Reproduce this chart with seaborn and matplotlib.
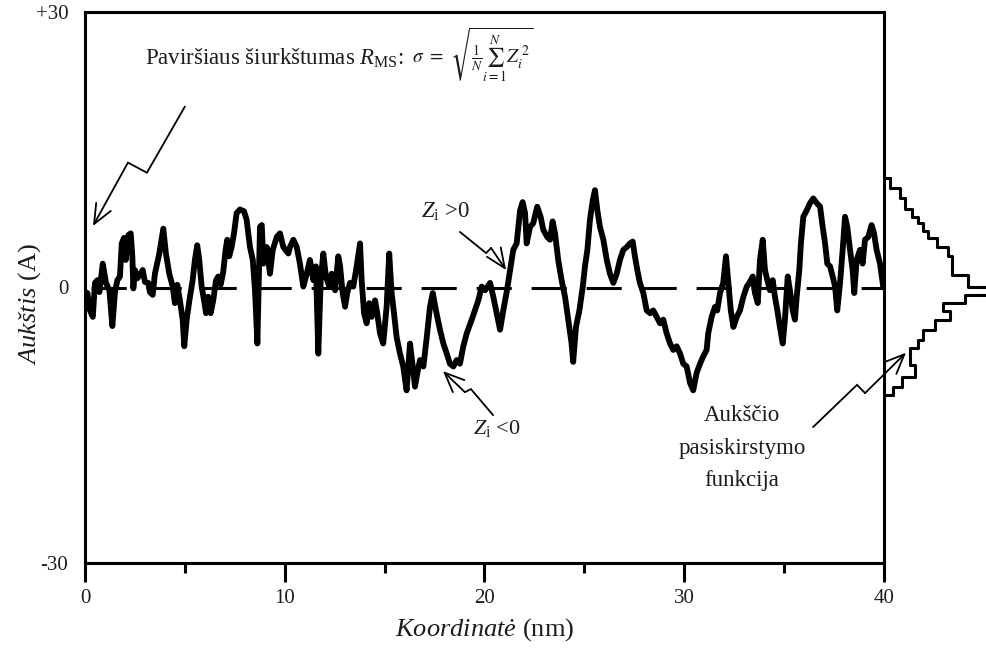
import matplotlib
matplotlib.use("Agg")
import matplotlib.pyplot as plt
import numpy as np
import pandas as pd
import seaborn as sns

# Surface profile: lateral coordinate (nm) and height (Å)
coordinate_nm = [
    0.02, 0.12, 0.25, 0.39, 0.50, 0.62, 0.72, 0.89, 1.05, 1.22, 1.37, 1.50, 1.62, 1.75,
    1.84, 1.95, 2.04, 2.17, 2.29, 2.37, 2.42, 2.50, 2.62, 2.75, 2.89, 3.00, 3.17, 3.25,
    3.39, 3.50, 3.72, 3.92, 4.05, 4.22, 4.39, 4.50, 4.62, 4.75, 4.89, 4.97, 5.09, 5.22,
    5.39, 5.50, 5.62, 5.72, 5.84, 5.96, 6.06, 6.17, 6.29, 6.42, 6.56, 6.67, 6.79, 6.92,
    7.04, 7.12, 7.22, 7.34, 7.46, 7.59, 7.76, 7.96, 8.09, 8.26, 8.40, 8.51, 8.63, 8.76,
    8.85, 8.93, 9.10, 9.26, 9.40, 9.60, 9.76, 9.93, 10.18, 10.26, 10.43, 10.60, 10.76,
    10.93, 11.10, 11.26, 11.43, 11.56, 11.68, 11.80, 11.93, 12.06, 12.23, 12.35, 12.52,
    12.68, 12.77, 12.90, 13.02, 13.13, 13.27, 13.43, 13.60, 13.77, 13.85, 13.97, 14.10,
    14.23, 14.35, 14.52, 14.63, 14.77, 14.93, 15.10, 15.23, 15.35, 15.47, 15.60, 15.77,
    15.93, 16.10, 16.27, 16.41, 16.52, 16.64, 16.77, 16.94, 17.11, 17.27, 17.41, 17.57,
    17.77, 17.94, 18.11, 18.27, 18.44, 18.61, 18.77, 18.94, 19.11, 19.36, 19.52, 19.69,
    19.86, 20.03, 20.28, 20.44, 20.61, 20.78, 20.94, 21.11, 21.28, 21.44, 21.61, 21.78,
    21.91, 22.03, 22.11, 22.28, 22.44, 22.64, 22.81, 22.94, 23.14, 23.28, 23.41, 23.53,
    23.69, 23.86, 24.03, 24.19, 24.36, 24.44, 24.58, 24.75, 24.92, 25.03, 25.15, 25.28,
    25.42, 25.53, 25.65, 25.78, 25.95, 26.12, 26.28, 26.45, 26.62, 26.78, 26.95, 27.12,
    27.28, 27.42, 27.53, 27.65, 27.78, 27.95, 28.12, 28.29, 28.45, 28.62, 28.79, 28.95,
    29.12, 29.29, 29.45, 29.62, 29.79, 29.95, 30.12, 30.29, 30.45, 30.62, 30.79, 30.95,
    31.12, 31.20, 31.37, 31.54, 31.65, 31.79, 31.95, 32.09, 32.21, 32.33, 32.46, 32.63,
    32.79, 32.96, 33.13, 33.26, 33.43, 33.54, 33.68, 33.79, 33.93, 34.04, 34.16, 34.29,
    34.43, 34.54, 34.66, 34.79, 34.93, 35.04, 35.18, 35.29, 35.43, 35.54, 35.63, 35.76,
    35.84, 35.96, 36.13, 36.30, 36.46, 36.63, 36.80, 36.93, 37.05, 37.16, 37.30, 37.43,
    37.55, 37.66, 37.80, 37.93, 38.05, 38.16, 38.30, 38.43, 38.51, 38.63, 38.80, 38.93,
    39.05, 39.21, 39.38, 39.50, 39.63, 39.80, 39.96,
]
height_A = [
    -0.5, -0.6, -2.5, -3.2, 0.5, 0.8, -0.5, 2.6, 0.5, -0.3, -4.2, -0.5, 0.8, 1.2,
    4.8, 5.4, 3.0, 5.7, 5.9, 3.4, -0.1, 1.9, 1.0, 1.4, 1.9, 0.6, 0.5, -0.5,
    -0.8, 1.5, 3.7, 6.4, 3.7, 1.5, 0.1, -1.7, 0.3, -1.4, -3.5, -6.4, -3.5, -1.5,
    0.8, 3.0, 4.6, 3.0, 0.1, -1.4, -2.8, -1.0, -2.8, -1.4, 0.8, 1.2, 0.3, 1.7,
    4.1, 5.2, 3.4, 4.4, 5.9, 8.1, 8.5, 8.3, 7.4, 4.4, 3.0, -0.3, -6.1, 6.6,
    6.8, 2.6, 4.4, 1.5, 4.1, 5.5, 5.9, 4.4, 3.7, 4.4, 5.2, 4.4, 2.6,
    0.1, 1.5, 3.0, 0.8, 2.3, -7.2, 0.8, 3.7, 1.2, 0.1, 1.5, -0.3,
    3.4, 2.3, -0.6, -2.1, -0.6, 0.5, 0.1, 2.3, 4.8, 0.8, -2.8, -3.9,
    -1.7, -3.2, -1.4, -2.8, -5.0, -6.1, -2.1, 3.7, -0.6, -2.8, -5.4, -7.2,
    -8.6, -11.2, -6.1, -8.6, -10.8, -9.3, -7.9, -8.6, -5.4, -2.1, -0.6, -2.5,
    -4.6, -6.1, -7.2, -8.3, -8.6, -7.9, -8.3, -6.4, -5.0, -3.5, -2.5, -1.4,
    0.1, -0.3, 0.5, -1.0, -2.8, -4.6, -2.5, -0.5, 1.9, 4.1, 4.8, 8.4,
    9.3, 8.1, 4.8, 6.6, 7.0, 8.8, 7.7, 6.3, 5.5, 5.2, 7.2, 5.9,
    3.0, 0.8, -1.0, -3.5, -6.1, -8.1, -4.3, -2.5, 0.1, 2.3, 4.1, 7.4,
    9.5, 10.6, 8.4, 6.6, 5.2, 3.0, 1.5, 0.5, 1.5, 3.0, 4.1, 4.4,
    4.8, 5.0, 3.4, 1.9, 0.5, -0.6, -2.5, -2.8, -2.5, -3.2, -3.9, -3.5,
    -5.0, -6.1, -6.8, -6.4, -7.2, -8.3, -8.6, -10.4, -11.2, -9.3, -8.3, -7.5,
    -6.8, -5.0, -3.2, -2.1, -2.5, -0.6, 0.5, 3.4, 0.5, -2.5, -4.3, -3.2,
    -2.5, -1.0, 0.1, 0.5, 1.2, -0.6, -1.7, 3.0, 5.2, 1.9, 0.8, -0.3,
    0.8, -1.0, -2.5, -4.3, -6.1, -3.5, 1.2, -0.3, -2.5, -3.5, -1.0, 1.9,
    4.8, 7.7, 8.4, 9.2, 9.7, 9.2, 8.8, 6.6, 4.8, 2.6, 2.3, 1.2,
    0.1, -2.5, 0.5, 4.1, 7.7, 6.6, 4.1, 1.9, -0.6, 3.0, 4.1, 2.6,
    5.2, 5.5, 6.8, 5.9, 4.1, 2.6, 0.1,
]

# Height distribution: bin edges (Å) and counts per bin
dist_edges_A = [-11.7, -10.8, -9.7, -8.4, -6.6, -5.7, -4.6, -3.5, -2.6, -1.7, -0.8,
                0.1, 1.4, 3.4, 4.4, 5.4, 6.1, 7.0, 7.7, 8.6, 9.7, 10.8, 11.9]
dist_counts = [8, 17, 30, 25, 33, 38, 50, 65, 58, 80, 120,
               83, 67, 63, 52, 43, 38, 33, 27, 20, 15, 5]

x_ticks = [0, 10, 20, 30, 40]
x_minor_ticks = [5, 15, 25, 35]
y_ticks = [30, 0, -30]
y_tick_labels = ["+30", "0", "-30"]

sns.set_theme(style="ticks")
plt.rcParams["font.family"] = ["Liberation Serif", "DejaVu Serif"]
plt.rcParams["mathtext.fontset"] = "custom"
plt.rcParams["mathtext.rm"] = "Liberation Serif"
plt.rcParams["mathtext.it"] = "Liberation Serif:italic"
plt.rcParams["mathtext.bf"] = "Liberation Serif:bold"

TXT = "#1c1c1c"
W, H = 987, 648
fig = plt.figure(figsize=(W / 100, H / 100), dpi=100)
fig.patch.set_facecolor("white")

left, right, top, bottom = 85, 884, 12, 563
ax = fig.add_axes([left / W, 1 - bottom / H, (right - left) / W, (bottom - top) / H])
ax.set_xlim(0, 40)
ax.set_ylim(-30, 30)

profile = pd.DataFrame({"coord": coordinate_nm, "height": height_A})

# mean (zero) level
ax.axhline(0, color="black", lw=2.2, ls=(16, (11.5, 6.5)), zorder=1)

sns.lineplot(data=profile, x="coord", y="height", ax=ax, color="black",
             lw=4.2, estimator=None, sort=False, zorder=3,
             solid_joinstyle="round", solid_capstyle="round")

for s in ax.spines.values():
    s.set_linewidth(2.2)
    s.set_color("black")
    s.set_visible(True)

ax.set_xticks(x_ticks)
ax.set_xticks(x_minor_ticks, minor=True)
ax.set_xticklabels([str(t) for t in x_ticks])
ax.tick_params(axis="x", which="major", direction="out", length=13.5, width=2.2,
               color="black", labelsize=15, pad=5, labelcolor=TXT)
ax.tick_params(axis="x", which="minor", direction="out", length=7.5, width=2.2,
               color="black")
ax.set_yticks(y_ticks)
ax.set_yticklabels(y_tick_labels)
ax.tick_params(axis="y", length=0, labelsize=15, pad=12, labelcolor=TXT)

ax.set_xlabel("$\\mathit{Koordinatė}$ (nm)", fontsize=19, color=TXT)
ax.xaxis.set_label_coords(0.5, -0.097)
ax.set_ylabel("$\\mathit{Aukštis}$ (A)", fontsize=19, color=TXT)
ax.yaxis.set_label_coords(-0.053, 0.47)

# height distribution drawn sideways to the right of the frame
edges = [float(e) for e in dist_edges_A]
centers = [(a + b) / 2 for a, b in zip(edges[:-1], edges[1:])]
dist = pd.DataFrame({"height": centers, "count": dist_counts})
hw = 0.12
axh = fig.add_axes([(right + 1) / W, 1 - bottom / H, hw, (bottom - top) / H])
sns.histplot(data=dist, y="height", weights="count", bins=edges, element="step",
             fill=False, color="black", lw=2.2, ax=axh)
# close the outline back to the frame at both ends
axh.plot([0, dist_counts[-1]], [edges[-1], edges[-1]], color="black", lw=2.2)
axh.plot([0, dist_counts[0]], [edges[0], edges[0]], color="black", lw=2.2)
axh.set_ylim(-30, 30)
axh.set_xlim(0, hw * W)
axh.set_axis_off()


def zigzag(points):
    xs, ys = zip(*points[:-1])
    ax.plot(xs, ys, color="black", lw=1.3, clip_on=False, zorder=4,
            solid_joinstyle="miter")
    ax.annotate("", xy=points[-1], xytext=points[-2], annotation_clip=False,
                arrowprops=dict(arrowstyle="->,head_length=0.7,head_width=0.3",
                                lw=1.3, color="black", shrinkA=0, shrinkB=0,
                                mutation_scale=20))


zigzag([(5.0, 19.7), (3.1, 12.5), (2.15, 13.6), (0.4, 6.7)])
zigzag([(18.77, 6.05), (20.08, 3.75), (20.33, 4.3), (21.08, 1.9)])
zigzag([(20.43, -13.9), (19.32, -11.06), (19.02, -11.4), (17.92, -9.1)])
zigzag([(36.45, -15.2), (38.65, -10.6), (39.05, -11.5), (41.1, -7.1)])

t1 = ax.text(3.0, 25.0, "Paviršiaus šiurkštumas $R_{\\mathrm{MS}}$:", fontsize=16.5,
             color=TXT, ha="left", va="center")
ax.annotate("$\\sigma\\ =\\ \\sqrt{\\frac{1}{N}\\sum_{i=1}^{N} Z_{i}^{\\,2}}$",
            xy=(1, 0.5), xycoords=t1, xytext=(6, 2), textcoords="offset points",
            fontsize=14, color=TXT, ha="left", va="center", math_fontfamily="stix")

ax.text(18.05, 8.2, "$Z_{\\mathrm{i}}$ >0", fontsize=16.5, color=TXT, ha="center", va="center")
ax.text(20.6, -15.3, "$Z_{\\mathrm{i}}$ <0", fontsize=16, color=TXT, ha="center", va="center")
ax.text(32.9, -17.5, "Aukščio\npasiskirstymo\nfunkcija", fontsize=16.5, color=TXT,
        ha="center", va="center", linespacing=1.72)

fig.savefig("out.png", dpi=100, facecolor="white")
